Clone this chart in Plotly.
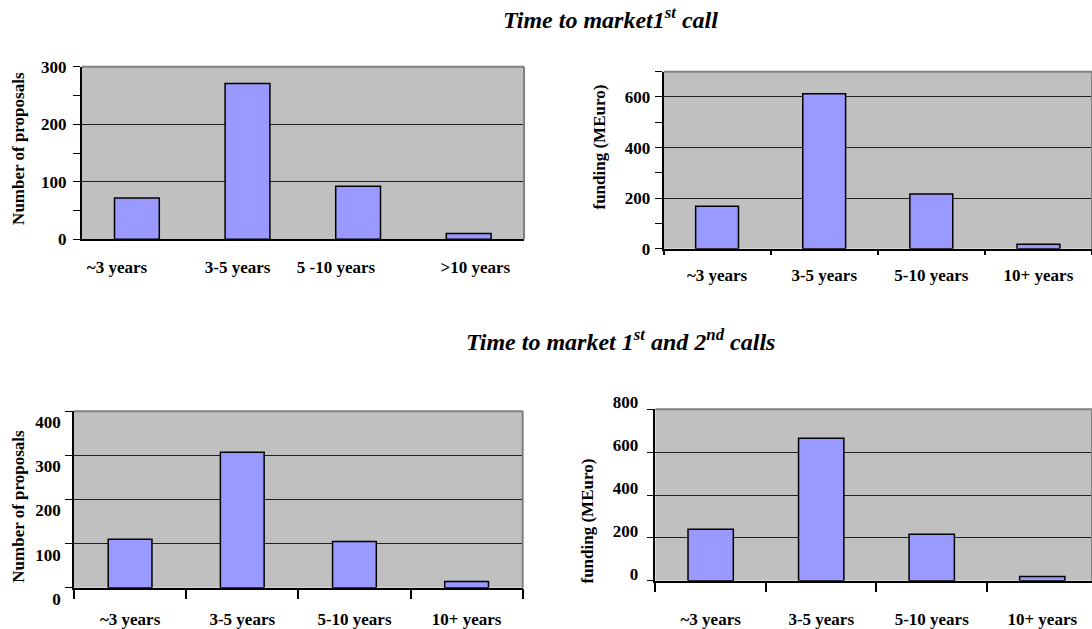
import plotly.graph_objects as go

# ---- data -------------------------------------------------------------
periods_first = ["~3 years", "3-5 years", "5 -10 years", ">10 years"]
proposals_first = [72, 271, 92, 10]

periods_funding_first = ["~3 years", "3-5 years", "5-10 years", "10+ years"]
funding_first = [168, 613, 216, 18]

periods_both = ["~3 years", "3-5 years", "5-10 years", "10+ years"]
proposals_both = [110, 307, 105, 14]
funding_both = [240, 665, 217, 20]

yticks_count_first = [0, 100, 200, 300]
yticks_funding_first = [0, 200, 400, 600]
yticks_count_both = [0, 100, 200, 300, 400]
yticks_funding_both = [0, 200, 400, 600, 800]

title_first = "<b><i>Time to market1<sup>st</sup> call</i></b>"
title_both = "<b><i>Time to market 1<sup>st</sup> and 2<sup>nd</sup> calls</i></b>"
ytitle_count = "Number of proposals"
ytitle_funding = "funding (MEuro)"

# ---- layout helpers ---------------------------------------------------
W, H = 1092, 629
FONT = "Liberation Serif"
TICK_FONT = dict(family=FONT, size=17, color="black")
GRID = "#202020"
BORDER = "#808080"
BAR_STYLE = dict(color="#9999FF", line=dict(color="black", width=1.5))


def bold(items):
    return [f"<b>{t}</b>" for t in items]


def xdom(a, b):
    return [a / W, min(b / W, 1.0)]


def ydom(top, bottom):
    return [1 - bottom / H, 1 - top / H]


# label nudges (in category units) for the first proposals chart
label_nudge_first = [-0.18, -0.09, -0.20, 0.06]

fig = go.Figure()

fig.add_trace(go.Bar(x=list(range(len(periods_first))), y=proposals_first,
                     xaxis="x", yaxis="y", width=0.405, marker=BAR_STYLE))
fig.add_trace(go.Bar(x=periods_funding_first, y=funding_first,
                     xaxis="x2", yaxis="y2", width=0.40, marker=BAR_STYLE))
fig.add_trace(go.Bar(x=periods_both, y=proposals_both,
                     xaxis="x3", yaxis="y3", width=0.39, marker=BAR_STYLE))
fig.add_trace(go.Bar(x=periods_both, y=funding_both,
                     xaxis="x4", yaxis="y4", width=0.41, marker=BAR_STYLE))


def yaxis(domain, anchor, top, ticks, minor_dtick, shift, standoff):
    ax = dict(domain=domain, anchor=anchor, range=[0, top],
              tickmode="array", tickvals=ticks, ticktext=bold(ticks),
              ticks="outside", ticklen=7, tickcolor="black", tickwidth=1,
              showgrid=True, gridcolor=GRID, gridwidth=1, zeroline=False,
              showline=True, linecolor="black", linewidth=1.5,
              tickfont=TICK_FONT, ticklabelshift=shift, ticklabelstandoff=standoff,
              automargin=False, fixedrange=True)
    if minor_dtick:
        ax["minor"] = dict(dtick=minor_dtick, tick0=0, ticks="outside", ticklen=7,
                           tickcolor="black", showgrid=False)
    return ax


def xaxis_cat(domain, anchor, cats, ticklen, standoff, rng=None):
    ax = dict(domain=domain, anchor=anchor, type="category", tickson="boundaries",
              tickmode="array", tickvals=cats, ticktext=bold(cats),
              ticks="outside", ticklen=ticklen, tickcolor="black", tickwidth=1.5,
              showline=True, linecolor="black", linewidth=1.5, showgrid=False,
              tickfont=TICK_FONT, ticklabelstandoff=standoff,
              automargin=False, fixedrange=True)
    if rng:
        ax["range"] = rng
    return ax


layout = dict(
    width=W, height=H,
    autosize=False,
    margin=dict(l=0, r=0, t=0, b=0, pad=0, autoexpand=False),
    paper_bgcolor="white",
    plot_bgcolor="#C0C0C0",
    showlegend=False,
    bargap=0.6,
    # top-left: proposals, first call
    xaxis=dict(domain=xdom(81.6, 524), anchor="y", range=[-0.5, 3.5],
               tickvals=[i + n for i, n in enumerate(label_nudge_first)],
               ticktext=bold(periods_first), ticks="", showgrid=False, zeroline=False,
               showline=True, linecolor="black", linewidth=1.5,
               tickfont=TICK_FONT, ticklabelstandoff=12,
               automargin=False, fixedrange=True),
    yaxis=yaxis(ydom(66.7, 239.3), "x", 300, yticks_count_first, 50, 0, 3),
    # top-right: funding, first call
    xaxis2=xaxis_cat(xdom(663.5, 1092), "y2", periods_funding_first, 5, 10),
    yaxis2=yaxis(ydom(71.7, 248.7), "x2", 700, yticks_funding_first, 100, 0, 1),
    # bottom-left: proposals, both calls
    xaxis3=xaxis_cat(xdom(74, 522.7), "y3", periods_both, 10, 15),
    yaxis3=yaxis(ydom(411.3, 587.7), "x3", 400, yticks_count_both, None, 11, 1),
    # bottom-right: funding, both calls
    xaxis4=xaxis_cat(xdom(655.4, 1092), "y4", periods_both, 10, 22, rng=[-0.5, 3.45]),
    yaxis4=yaxis(ydom(409.3, 580.7), "x4", 800, yticks_funding_both, None, -7, 5),
)
fig.update_layout(**layout)

# grey frame on the top and right edges of each plot area
shapes = []
for xr, yr in [("x", "y"), ("x2", "y2"), ("x3", "y3"), ("x4", "y4")]:
    for x0, y0, x1, y1 in [(0, 1, 1, 1), (1, 0, 1, 1)]:
        shapes.append(dict(type="line", xref=f"{xr} domain", yref=f"{yr} domain",
                           x0=x0, y0=y0, x1=x1, y1=y1,
                           line=dict(color=BORDER, width=2)))
fig.update_layout(shapes=shapes)

# titles and rotated axis titles
ann = []
for text, cx, cy in [(title_first, 610, 18), (title_both, 620, 340)]:
    ann.append(dict(text=text, x=cx / W, y=1 - cy / H, xref="paper", yref="paper",
                    xanchor="center", yanchor="middle", showarrow=False,
                    font=dict(family=FONT, size=24, color="black")))
for text, cx, cy in [(ytitle_count, 18.6, 148.3), (ytitle_funding, 599, 147.5),
                     (ytitle_count, 19, 506.7), (ytitle_funding, 587.7, 520.8)]:
    ann.append(dict(text=f"<b>{text}</b>", x=cx / W, y=1 - cy / H,
                    xref="paper", yref="paper", xanchor="center", yanchor="middle",
                    textangle=-90, showarrow=False,
                    font=dict(family=FONT, size=17, color="black")))
fig.update_layout(annotations=ann)

fig.write_html("out.html")
